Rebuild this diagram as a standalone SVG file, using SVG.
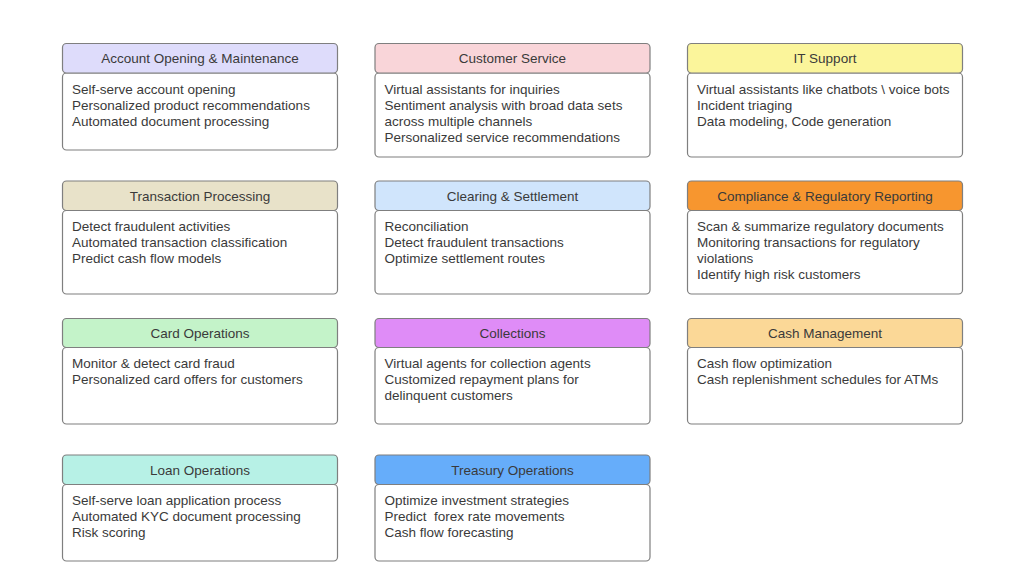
<svg xmlns="http://www.w3.org/2000/svg" width="1024" height="576" viewBox="0 0 1024 576">
<style>
.hd{stroke:#7f7f7f;stroke-width:1.2}
.bd{fill:#ffffff;stroke:#7f7f7f;stroke-width:1.2}
.ht{font-family:"Liberation Sans",Arial,sans-serif;font-size:13.5px;fill:#3a3a3a;text-anchor:middle}
.bt{font-family:"Liberation Sans",Arial,sans-serif;font-size:13.5px;fill:#3a3a3a}
</style>
<rect width="1024" height="576" fill="#ffffff"/>
<g id="connectors"></g>

<g id="account-opening">
<rect class="bd" x="62.5" y="73" width="275" height="77" rx="4"/>
<rect class="hd" x="62.5" y="43.5" width="275" height="29.5" rx="4" fill="#dedcfb"/>
<text class="ht" x="200" y="63">Account Opening &amp; Maintenance</text>
<text class="bt" x="72" y="93.5">Self-serve account opening</text>
<text class="bt" x="72" y="109.5">Personalized product recommendations</text>
<text class="bt" x="72" y="125.5">Automated document processing</text>
</g>

<g id="customer-service">
<rect class="bd" x="375" y="73" width="275" height="84" rx="4"/>
<rect class="hd" x="375" y="43.5" width="275" height="29.5" rx="4" fill="#f9d5d9"/>
<text class="ht" x="512.5" y="63">Customer Service</text>
<text class="bt" x="384.5" y="93.5">Virtual assistants for inquiries</text>
<text class="bt" x="384.5" y="109.5">Sentiment analysis with broad data sets</text>
<text class="bt" x="384.5" y="125.5">across multiple channels</text>
<text class="bt" x="384.5" y="141.5">Personalized service recommendations</text>
</g>

<g id="it-support">
<rect class="bd" x="687.5" y="73" width="275" height="84" rx="4"/>
<rect class="hd" x="687.5" y="43.5" width="275" height="29.5" rx="4" fill="#fbf59b"/>
<text class="ht" x="825" y="63">IT Support</text>
<text class="bt" x="697" y="93.5">Virtual assistants like chatbots \ voice bots</text>
<text class="bt" x="697" y="109.5">Incident triaging</text>
<text class="bt" x="697" y="125.5">Data modeling, Code generation</text>
</g>

<g id="transaction-processing">
<rect class="bd" x="62.5" y="210.5" width="275" height="83.5" rx="4"/>
<rect class="hd" x="62.5" y="181" width="275" height="29.5" rx="4" fill="#e8e2c9"/>
<text class="ht" x="200" y="200.5">Transaction Processing</text>
<text class="bt" x="72" y="231">Detect fraudulent activities</text>
<text class="bt" x="72" y="247">Automated transaction classification</text>
<text class="bt" x="72" y="263">Predict cash flow models</text>
</g>

<g id="clearing-settlement">
<rect class="bd" x="375" y="210.5" width="275" height="83.5" rx="4"/>
<rect class="hd" x="375" y="181" width="275" height="29.5" rx="4" fill="#d0e5fc"/>
<text class="ht" x="512.5" y="200.5">Clearing &amp; Settlement</text>
<text class="bt" x="384.5" y="231">Reconciliation</text>
<text class="bt" x="384.5" y="247">Detect fraudulent transactions</text>
<text class="bt" x="384.5" y="263">Optimize settlement routes</text>
</g>

<g id="compliance">
<rect class="bd" x="687.5" y="210.5" width="275" height="83.5" rx="4"/>
<rect class="hd" x="687.5" y="181" width="275" height="29.5" rx="4" fill="#f7962f"/>
<text class="ht" x="825" y="200.5">Compliance &amp; Regulatory Reporting</text>
<text class="bt" x="697" y="231">Scan &amp; summarize regulatory documents</text>
<text class="bt" x="697" y="247">Monitoring transactions for regulatory</text>
<text class="bt" x="697" y="263">violations</text>
<text class="bt" x="697" y="279">Identify high risk customers</text>
</g>

<g id="card-operations">
<rect class="bd" x="62.5" y="347.5" width="275" height="76.5" rx="4"/>
<rect class="hd" x="62.5" y="318.5" width="275" height="29" rx="4" fill="#c4f3c9"/>
<text class="ht" x="200" y="337.5">Card Operations</text>
<text class="bt" x="72" y="368">Monitor &amp; detect card fraud</text>
<text class="bt" x="72" y="384">Personalized card offers for customers</text>
</g>

<g id="collections">
<rect class="bd" x="375" y="347.5" width="275" height="76.5" rx="4"/>
<rect class="hd" x="375" y="318.5" width="275" height="29" rx="4" fill="#df8cf7"/>
<text class="ht" x="512.5" y="337.5">Collections</text>
<text class="bt" x="384.5" y="368">Virtual agents for collection agents</text>
<text class="bt" x="384.5" y="384">Customized repayment plans for</text>
<text class="bt" x="384.5" y="400">delinquent customers</text>
</g>

<g id="cash-management">
<rect class="bd" x="687.5" y="347.5" width="275" height="76.5" rx="4"/>
<rect class="hd" x="687.5" y="318.5" width="275" height="29" rx="4" fill="#fbd897"/>
<text class="ht" x="825" y="337.5">Cash Management</text>
<text class="bt" x="697" y="368">Cash flow optimization</text>
<text class="bt" x="697" y="384">Cash replenishment schedules for ATMs</text>
</g>

<g id="loan-operations">
<rect class="bd" x="62.5" y="484.5" width="275" height="76.5" rx="4"/>
<rect class="hd" x="62.5" y="455" width="275" height="29.5" rx="4" fill="#b7f1e6"/>
<text class="ht" x="200" y="474.5">Loan Operations</text>
<text class="bt" x="72" y="505">Self-serve loan application process</text>
<text class="bt" x="72" y="521">Automated KYC document processing</text>
<text class="bt" x="72" y="537">Risk scoring</text>
</g>

<g id="treasury-operations">
<rect class="bd" x="375" y="484.5" width="275" height="76.5" rx="4"/>
<rect class="hd" x="375" y="455" width="275" height="29.5" rx="4" fill="#66adfa"/>
<text class="ht" x="512.5" y="474.5">Treasury Operations</text>
<text class="bt" x="384.5" y="505">Optimize investment strategies</text>
<text class="bt" x="384.5" y="521" xml:space="preserve">Predict  forex rate movements</text>
<text class="bt" x="384.5" y="537">Cash flow forecasting</text>
</g>
</svg>
